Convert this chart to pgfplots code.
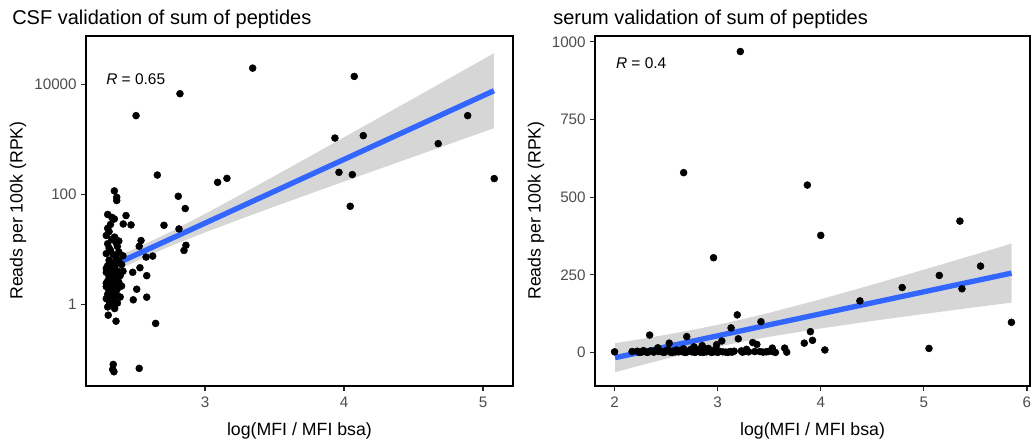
\documentclass[border=0pt]{standalone}
\usepackage{fontspec}
\setmainfont{Liberation Sans}
\usepackage{pgfplots}
\pgfplotsset{compat=1.18}

\definecolor{fitblue}{HTML}{3366FF}
\definecolor{tickgray}{HTML}{4D4D4D}
\definecolor{ribbon}{HTML}{999999}

\pgfplotsset{
  panel/.style={
    scale only axis,
    axis line style={line width=1.1pt},
    tick pos=left,
    tick align=outside,
    major tick length=3.5pt,
    tick style={line width=0.9pt, black!85},
    ticklabel style={font=\fontsize{11.4}{13}\selectfont, text=tickgray},
    xticklabel style={yshift=-1.5pt},
  },
  pts/.style={only marks, mark=*, mark size=2.6pt, mark options={fill=black, draw=none}},
  cib/.style={draw=none, fill=ribbon, fill opacity=0.4},
  fitline/.style={fitblue, line width=4pt, no marks},
}

\begin{document}
\begin{tikzpicture}
\useasboundingbox (0,0) rectangle (774.75pt,334.5pt);

% CSF panel
\begin{axis}[panel,
  at={(64.5pt,45pt)}, anchor=south west,
  width=320.25pt, height=262.5pt,
  xmin=2.144, xmax=5.216,
  ymode=log, ymin=0.0324, ymax=76000,
  xtick={3,4,5}, xticklabels={3,4,5},
  ytick={1,100,10000}, yticklabels={1,100,10000},
  yminorticks=false,
]
\addplot[pts] coordinates {
  (3.343,19780) (4.074,13970) (2.820,6770) (2.504,2700) (3.935,1056)
  (4.139,1167) (4.890,2700) (4.678,834) (2.657,224) (3.091,165)
  (3.158,195) (3.964,251) (4.060,228) (5.081,193) (4.045,60.5)
  (2.808,92) (2.858,55) (2.348,115) (2.365,88) (2.365,77)
  (2.348,35.6) (2.432,41) (2.412,28.8) (2.468,27.7) (2.705,27.3)
  (2.813,23.4) (2.540,14.4) (2.527,11.3) (2.863,11.8) (2.849,9.5)
  (2.576,7.2) (2.624,7.5) (2.532,4.6) (2.480,3.8) (2.581,3.3)
  (2.509,1.87) (2.484,1.2) (2.581,1.34) (2.304,0.63) (2.360,0.49)
  (2.645,0.446) (2.340,0.080) (2.336,0.065) (2.345,0.0588) (2.527,0.0678)
  (2.29,17.78) (2.31,20.9) (2.33,15.14) (2.30,12.59) (2.35,16.6)
  (2.37,11.22) (2.32,9.55) (2.29,8.318) (2.34,7.943) (2.36,7.079)
  (2.31,6.31) (2.38,6.026) (2.33,5.623) (2.30,5.012) (2.35,4.786)
  (2.32,4.169) (2.37,3.981) (2.29,3.802) (2.34,3.548) (2.31,3.162)
  (2.36,3.020) (2.33,2.818) (2.30,2.630) (2.38,2.512) (2.35,2.399)
  (2.32,2.239) (2.29,2.089) (2.34,1.995) (2.37,1.905) (2.31,1.778)
  (2.33,1.660) (2.30,1.514) (2.36,1.585) (2.35,1.413) (2.32,1.318)
  (2.29,1.259) (2.34,1.202) (2.31,1.122) (2.37,1.047) (2.33,0.955)
  (2.30,0.891) (2.35,0.832) (2.32,28.2) (2.30,24.0) (2.34,35.5)
  (2.31,10.47) (2.38,8.913) (2.40,5.248) (2.39,3.311) (2.40,2.138)
  (2.39,1.349) (2.36,13.18) (2.29,4.467) (2.29,2.399) (2.41,3.981)
  (2.41,7.586) (2.38,14.13) (2.30,43) (2.33,38)
};
\addplot[cib] coordinates {
  (2.288,6.11) (2.4,8.00) (2.55,11.78) (2.75,20.6) (3.0,43.9) (3.25,96.4)
  (3.5,214.8) (3.75,482) (4.0,1086) (4.25,2455) (4.5,5546) (4.75,12560)
  (5.079,36900)
  (5.079,1596) (4.75,807) (4.5,481) (4.25,287) (4.0,170.6) (3.75,101.2)
  (3.5,59.7) (3.25,35.0) (3.0,20.2) (2.75,11.38) (2.55,6.84) (2.4,4.52)
  (2.288,3.25)
} -- cycle;
\addplot[fitline] coordinates {(2.288,4.46) (5.079,7674)};
\end{axis}

% serum panel
\begin{axis}[panel,
  at={(446.25pt,45pt)}, anchor=south west,
  width=326.25pt, height=262.5pt,
  xmin=1.81, xmax=6.03,
  ymin=-108, ymax=1019,
  xtick={2,3,4,5,6}, xticklabels={2,3,4,5,6},
  ytick={0,250,500,750,1000}, yticklabels={0,250,500,750,1000},
]
\addplot[pts] coordinates {
  (2.00,2) (2.17,3) (2.22,4) (2.26,1) (2.30,2) (2.34,56) (2.35,5) (2.38,1)
  (2.42,15) (2.43,3) (2.46,2) (2.50,6) (2.53,30) (2.54,1) (2.57,4) (2.60,8)
  (2.62,2) (2.65,3) (2.67,12) (2.70,51) (2.70,1) (2.72,5) (2.75,2) (2.77,18)
  (2.79,3) (2.81,9) (2.83,1) (2.85,22) (2.87,4) (2.89,2) (2.91,13) (2.93,6)
  (2.95,1) (2.96,305) (2.97,3) (2.99,25) (3.01,5) (3.04,37) (3.05,2) (3.12,3)
  (3.13,79) (3.14,1) (3.19,121) (3.20,44) (3.22,969) (3.23,5) (3.26,3) (3.28,10)
  (3.34,32) (3.36,3) (3.38,26) (3.41,3) (3.42,99) (3.49,3) (3.53,14) (3.53,3)
  (3.65,14) (3.84,30) (3.87,539) (3.90,67) (3.92,39) (4.00,377) (4.04,8)
  (4.38,166) (4.79,209) (5.05,13) (5.15,248) (5.35,423) (5.37,205) (5.55,278)
  (5.85,97) (2.67,579)
  (2.24,0) (2.28,6) (2.32,0) (2.40,7) (2.48,0) (2.52,9) (2.56,0) (2.59,2)
  (2.64,7) (2.68,0) (2.74,10) (2.78,0) (2.82,6) (2.86,0) (2.90,8) (2.94,0)
  (2.98,11) (3.00,0) (3.08,1) (3.10,0) (3.16,4) (3.24,1) (3.30,2) (3.44,1)
  (3.47,2) (3.56,0) (3.67,1)
};
\addplot[cib] coordinates {
  (2.005,30.1) (2.25,42.9) (2.5,56.9) (2.75,72.1) (3.0,89.0) (3.25,107.5)
  (3.5,127.6) (4.0,171.4) (4.5,218.2) (5.0,266.5) (5.5,315.6) (5.851,350.5)
  (5.851,160.5) (5.5,145.6) (5.0,123.9) (4.5,101.4) (4.0,77.4) (3.5,50.4)
  (3.25,35.1) (3.0,18.2) (2.75,-0.3) (2.5,-20.3) (2.25,-41.8) (2.005,-63.7)
} -- cycle;
\addplot[fitline] coordinates {(2.005,-16.8) (5.851,255.5)};
\end{axis}

% titles and labels
\node[anchor=base west, inner sep=0, font=\fontsize{15}{18}\selectfont] at (9pt,316.3pt) {CSF validation of sum of peptides};
\node[anchor=base west, inner sep=0, font=\fontsize{15}{18}\selectfont] at (414.75pt,316.3pt) {serum validation of sum of peptides};
\node[anchor=base, inner sep=0, font=\fontsize{13.3}{16}\selectfont] at (224.6pt,7.5pt) {log(MFI / MFI bsa)};
\node[anchor=base, inner sep=0, font=\fontsize{13.3}{16}\selectfont] at (609.4pt,7.5pt) {log(MFI / MFI bsa)};
\node[rotate=90, inner sep=0, font=\fontsize{13.3}{16}\selectfont] at (13.5pt,176.6pt) {Reads per 100k (RPK)};
\node[rotate=90, inner sep=0, font=\fontsize{13.3}{16}\selectfont] at (402pt,176.6pt) {Reads per 100k (RPK)};
\node[anchor=base west, inner sep=0, font=\fontsize{11.6}{14}\selectfont] at (79.5pt,271.1pt) {\textit{R} = 0.65};
\node[anchor=base west, inner sep=0, font=\fontsize{11.6}{14}\selectfont] at (461.8pt,282.9pt) {\textit{R} = 0.4};
\end{tikzpicture}
\end{document}
